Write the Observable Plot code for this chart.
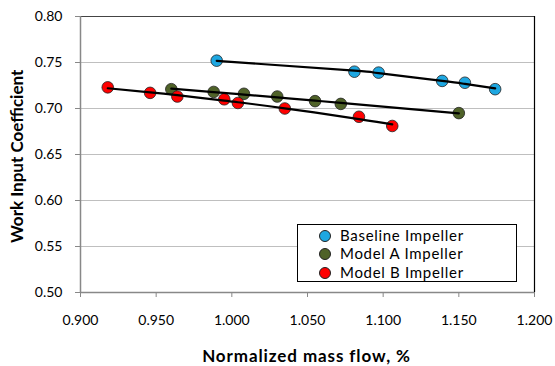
<!DOCTYPE html>
<html>
<head>
<meta charset="utf-8">
<script src="https://cdn.jsdelivr.net/npm/d3@7"></script>
<script src="https://cdn.jsdelivr.net/npm/@observablehq/plot@0.6"></script>
<style>
  html, body { margin: 0; padding: 0; background: #fff; }
  #wrap { position: relative; width: 555px; height: 366px; font-family: Lato, "Open Sans", sans-serif; }
  #legend { position: absolute; left: 297px; top: 224px; width: 220px; height: 58px; border: 1px solid #000; background: #fff; box-sizing: border-box; font-size: 15px; letter-spacing: 0.7px; color: #000; }
  #legend .row { position: absolute; left: 0; height: 19px; line-height: 19px; white-space: nowrap; }
  #legend .sw { position: absolute; left: 21px; top: 4px; width: 10px; height: 10px; border-radius: 50%; border: 1px solid #222; }
  #legend .lb { position: absolute; left: 42px; top: 0; }
</style>
</head>
<body>
<div id="wrap"></div>
<script>
const seriesNames = ["Baseline Impeller", "Model A Impeller", "Model B Impeller"];
const seriesColors = ["#1ea7e1", "#4f6228", "#ff0000"];

const baselineFlow = [0.990, 1.081, 1.097, 1.139, 1.154, 1.174];
const baselineWork = [0.752, 0.740, 0.739, 0.730, 0.728, 0.721];

const modelAFlow = [0.960, 0.988, 1.008, 1.030, 1.055, 1.072, 1.150];
const modelAWork = [0.721, 0.718, 0.716, 0.713, 0.708, 0.705, 0.695];

const modelBFlow = [0.918, 0.946, 0.964, 0.995, 1.004, 1.035, 1.084, 1.106];
const modelBWork = [0.723, 0.717, 0.713, 0.710, 0.706, 0.700, 0.691, 0.681];

const xTicks = [0.900, 0.950, 1.000, 1.050, 1.100, 1.150, 1.200];
const yTicks = [0.50, 0.55, 0.60, 0.65, 0.70, 0.75, 0.80];

const data = [];
[[baselineFlow, baselineWork], [modelAFlow, modelAWork], [modelBFlow, modelBWork]].forEach(([fx, wy], i) => {
  fx.forEach((x, j) => data.push({series: seriesNames[i], flow: x, work: wy[j]}));
});

// Second-order polynomial trendline (least squares), evaluated at each series' own flows
function quadFit(xs, ys) {
  const mx = d3.mean(xs);
  let s = [0,0,0,0,0], t = [0,0,0];
  xs.forEach((x0, i) => {
    const x = x0 - mx, y = ys[i];
    s[0] += 1; s[1] += x; s[2] += x*x; s[3] += x*x*x; s[4] += x*x*x*x;
    t[0] += y; t[1] += x*y; t[2] += x*x*y;
  });
  const A = [[s[0], s[1], s[2]], [s[1], s[2], s[3]], [s[2], s[3], s[4]]];
  const det = m => m[0][0]*(m[1][1]*m[2][2]-m[1][2]*m[2][1]) - m[0][1]*(m[1][0]*m[2][2]-m[1][2]*m[2][0]) + m[0][2]*(m[1][0]*m[2][1]-m[1][1]*m[2][0]);
  const D = det(A);
  const c = [0,1,2].map(k => det(A.map((row, r) => row.map((v, col) => col === k ? t[r] : v))) / D);
  return x0 => { const x = x0 - mx; return c[0] + c[1]*x + c[2]*x*x; };
}
const trend = [];
seriesNames.forEach(name => {
  const rows = data.filter(d => d.series === name).sort((a, b) => a.flow - b.flow);
  const f = quadFit(rows.map(d => d.flow), rows.map(d => d.work));
  rows.forEach(d => trend.push({series: name, flow: d.flow, work: f(d.flow)}));
});

const font = 'Lato, "Open Sans", sans-serif';
const chart = Plot.plot({
  width: 555,
  height: 366,
  marginLeft: 80,
  marginRight: 21,
  marginTop: 16,
  marginBottom: 74,
  style: {fontFamily: font, fontSize: "14px", color: "#000", background: "#fff"},
  x: {domain: [0.9, 1.2]},
  y: {domain: [0.5, 0.8]},
  color: {domain: seriesNames, range: seriesColors},
  marks: [
    Plot.gridY(yTicks, {stroke: "#bfbfbf", strokeOpacity: 1}),
    Plot.ruleY([0.8], {stroke: "#444", strokeWidth: 1.2}),
    Plot.ruleX([1.2], {stroke: "#000", strokeWidth: 1.2}),
    Plot.axisX({ticks: xTicks, tickFormat: d3.format(".3f"), tickSize: 5, tickPadding: 18, stroke: "#888", label: "Normalized mass flow, %", labelArrow: "none", labelAnchor: "center", labelOffset: 64, fontSize: 14}),
    Plot.axisY({ticks: yTicks, tickFormat: d3.format(".2f"), tickSize: 5, tickPadding: 13, stroke: "#888", label: "Work Input Coefficient", labelAnchor: "center", labelOffset: 72, labelArrow: "none", fontSize: 14}),
    Plot.ruleY([0.5], {stroke: "#888", strokeWidth: 1.5}),
    Plot.ruleX([0.9], {stroke: "#888", strokeWidth: 1.5}),
    Plot.dot(data, {x: "flow", y: "work", fill: "series", r: 5.8, stroke: "#222", strokeWidth: 0.8}),
    Plot.line(trend, {x: "flow", y: "work", z: "series", stroke: "#000", strokeWidth: 2.2, curve: "natural"})
  ]
});
const wrap = document.getElementById("wrap");
wrap.appendChild(chart);

// Axis titles: bold, and centred where the reference places them
function placeLabel(sel, cx, cy, size, spacing) {
  const t = d3.select(chart).select(sel);
  if (t.empty()) return;
  t.style("font-weight", "bold").style("font-size", size + "px").style("letter-spacing", spacing + "px");
  const g = t.node().parentNode;
  const box = t.node().getBoundingClientRect();
  const svgBox = chart.getBoundingClientRect();
  const dx = cx - (box.left - svgBox.left + box.width / 2);
  const dy = cy - (box.top - svgBox.top + box.height / 2);
  const wrapG = document.createElementNS("http://www.w3.org/2000/svg", "g");
  wrapG.setAttribute("transform", `translate(${dx},${dy})`);
  g.insertBefore(wrapG, t.node());
  wrapG.appendChild(t.node());
}
placeLabel('g[aria-label="x-axis label"] text', 306.5, 355, 17, 0.9);
placeLabel('g[aria-label="y-axis label"] text', 16, 156, 17, 0);

const legend = document.createElement("div");
legend.id = "legend";
seriesNames.forEach((name, i) => {
  const row = document.createElement("div");
  row.className = "row";
  row.style.top = (0.5 + i * 18.5) + "px";
  row.style.width = "100%";
  const sw = document.createElement("span");
  sw.className = "sw";
  sw.style.background = seriesColors[i];
  const lb = document.createElement("span");
  lb.className = "lb";
  lb.textContent = name;
  row.appendChild(sw);
  row.appendChild(lb);
  legend.appendChild(row);
});
wrap.appendChild(legend);
</script>
</body>
</html>
